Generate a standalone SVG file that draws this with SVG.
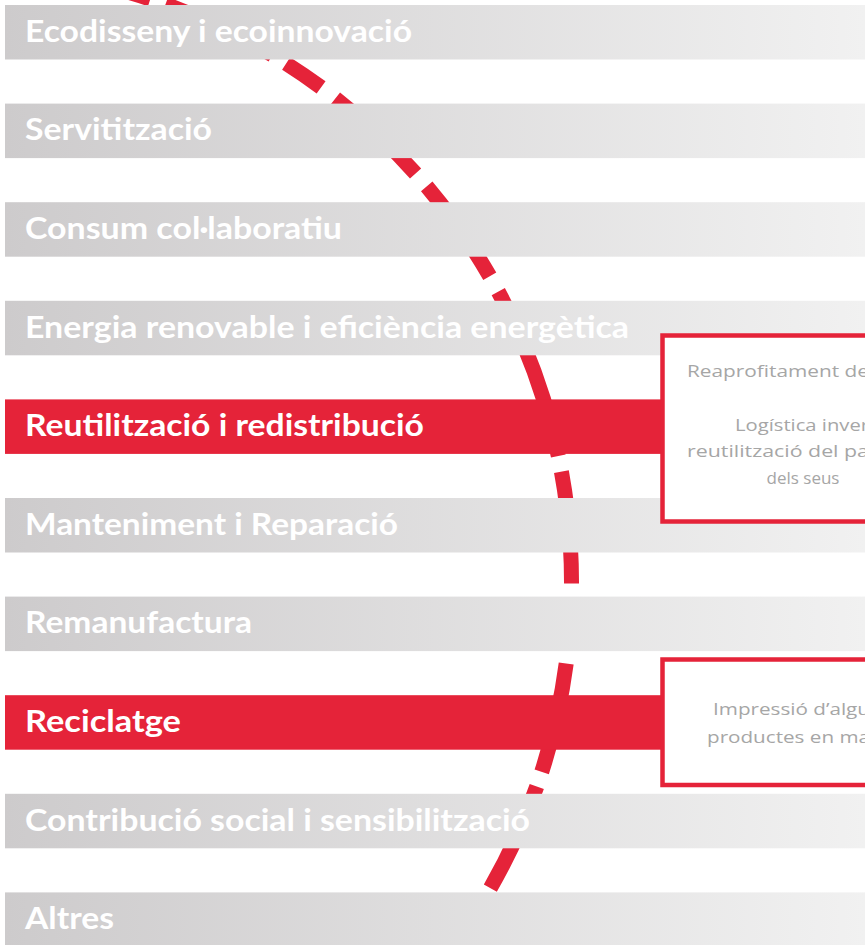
<svg xmlns="http://www.w3.org/2000/svg" width="865" height="945" viewBox="0 0 865 945">
  <defs>
    <linearGradient id="gray" gradientUnits="userSpaceOnUse" x1="5" y1="0" x2="865" y2="0">
      <stop offset="0" stop-color="#cdcbcc"/>
      <stop offset="1" stop-color="#f1f1f1"/>
    </linearGradient>
    <style>
      .bar { fill: url(#gray); }
      .bar-on { fill: #e52339; }
      .lbl { font-family: Lato, "Liberation Sans", sans-serif; font-weight: 700; font-size: 30px; fill: #ffffff; }
      .box { fill: #ffffff; stroke: #e52339; stroke-width: 4.5; }
      .note { font-family: "Open Sans", "Liberation Sans", sans-serif; font-size: 17px; fill: #a6a6a6; }
      .arc { fill: none; stroke: #e52339; stroke-width: 15; stroke-linecap: butt; }
    </style>
  </defs>
  <rect width="865" height="945" fill="#ffffff"/>

  <g id="connectors">
    <path class="arc" d="M 105.28 -14.03 A 615 615 0 0 1 490.34 888.10"
      stroke-dasharray="47 16 118.6 16 42.4 18 110 17 110 17.5 42 16.5 117 16 112.4 16 48 16.2 111.3 15.4 112 200"/>
  </g>

  <g id="node-ecodisseny">
    <rect class="bar" x="5" y="5" width="865" height="54.5"/>
    <text class="lbl" x="25" y="41.7" textLength="387" lengthAdjust="spacingAndGlyphs">Ecodisseny i ecoinnovació</text>
  </g>
  <g id="node-servititzacio">
    <rect class="bar" x="5" y="103.6" width="865" height="54.5"/>
    <text class="lbl" x="25" y="140.3" textLength="187" lengthAdjust="spacingAndGlyphs">Servitització</text>
  </g>
  <g id="node-consum">
    <rect class="bar" x="5" y="202.2" width="865" height="54.5"/>
    <text class="lbl" x="25" y="238.9" textLength="317" lengthAdjust="spacingAndGlyphs">Consum col·laboratiu</text>
  </g>
  <g id="node-energia">
    <rect class="bar" x="5" y="300.8" width="865" height="54.5"/>
    <text class="lbl" x="25" y="337.5" textLength="604" lengthAdjust="spacingAndGlyphs">Energia renovable i eficiència energètica</text>
  </g>
  <g id="node-reutilitzacio">
    <rect class="bar-on" x="5" y="399.4" width="865" height="54.5"/>
    <text class="lbl" x="25" y="436.1" textLength="399" lengthAdjust="spacingAndGlyphs">Reutilització i redistribució</text>
  </g>
  <g id="node-manteniment">
    <rect class="bar" x="5" y="498" width="865" height="54.5"/>
    <text class="lbl" x="25" y="534.7" textLength="373" lengthAdjust="spacingAndGlyphs">Manteniment i Reparació</text>
  </g>
  <g id="node-remanufactura">
    <rect class="bar" x="5" y="596.6" width="865" height="54.5"/>
    <text class="lbl" x="25" y="633.3" textLength="227" lengthAdjust="spacingAndGlyphs">Remanufactura</text>
  </g>
  <g id="node-reciclatge">
    <rect class="bar-on" x="5" y="695.2" width="865" height="54.5"/>
    <text class="lbl" x="25" y="731.9" textLength="156" lengthAdjust="spacingAndGlyphs">Reciclatge</text>
  </g>
  <g id="node-contribucio">
    <rect class="bar" x="5" y="793.8" width="865" height="54.5"/>
    <text class="lbl" x="25" y="830.5" textLength="505" lengthAdjust="spacingAndGlyphs">Contribució social i sensibilització</text>
  </g>
  <g id="node-altres">
    <rect class="bar" x="5" y="892.4" width="865" height="54.5"/>
    <text class="lbl" x="25" y="929.1" textLength="89" lengthAdjust="spacingAndGlyphs">Altres</text>
  </g>

  <g id="note-reutilitzacio">
    <rect class="box" x="662.5" y="335.5" width="230" height="186"/>
    <text class="note" x="687" y="377" textLength="182" lengthAdjust="spacingAndGlyphs">Reaprofitament de</text>
    <text class="note" x="735" y="431" textLength="134" lengthAdjust="spacingAndGlyphs">Logística inver</text>
    <text class="note" x="687" y="457" textLength="182" lengthAdjust="spacingAndGlyphs">reutilització del pa</text>
    <text class="note" x="803" y="484" text-anchor="middle">dels seus</text>
  </g>
  <g id="note-reciclatge">
    <rect class="box" x="662.5" y="659.5" width="230" height="125.5"/>
    <text class="note" x="713" y="715" textLength="157" lengthAdjust="spacingAndGlyphs">Impressió d’algu</text>
    <text class="note" x="707" y="743" textLength="163" lengthAdjust="spacingAndGlyphs">productes en ma</text>
  </g>
</svg>
